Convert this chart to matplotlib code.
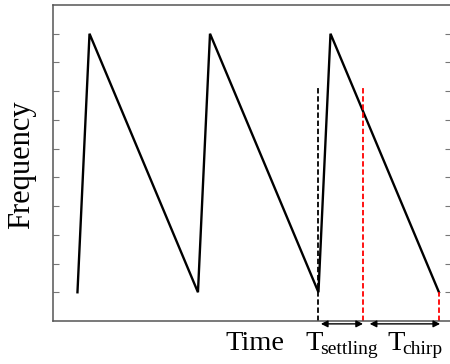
import matplotlib
matplotlib.use("Agg")
import matplotlib.pyplot as plt

plt.rcParams['font.family'] = ['Liberation Serif', 'DejaVu Serif']

# Sawtooth chirp sequence: (time, frequency) vertices
chirp_time = [0, 1, 10, 11, 20, 21, 30]
chirp_freq = [0, 9, 0, 9, 0, 9, 0]

# Timing markers
settle_start = 20
settle_end = 23.7
chirp_end = 30
marker_top = 7.1

y_ticks = list(range(0, 10))

fig = plt.figure(figsize=(4.5, 3.64), dpi=100)
W, H = 450, 364
ax = fig.add_axes([53 / W, 1 - 321 / H, (451 - 53) / W, (321 - 5) / H])

ax.plot(chirp_time, chirp_freq, color='black', lw=1.7, solid_joinstyle='miter')

dash = (0, (3, 1.5))
ax.plot([settle_start, settle_start], [-1, marker_top], color='black', lw=1.3, ls=dash)
ax.plot([settle_end, settle_end], [-1, marker_top], color='red', lw=1.3, ls=dash)
ax.plot([chirp_end, chirp_end], [-1, 0], color='red', lw=1.3, ls=dash)

ax.set_xlim(-2.03, 31.0)
ax.set_ylim(-1, 10)
ax.set_xticks([])
ax.set_yticks(y_ticks)
ax.set_yticklabels([])
ax.tick_params(axis='y', direction='in', length=4, width=0.8, color='#777777',
               left=True, right=True)
for s in ax.spines.values():
    s.set_color('#555555')
    s.set_linewidth(1.1)
ax.spines['right'].set_visible(False)

arrow_y = -1.1
ax.annotate('', xy=(settle_start + 0.2, arrow_y), xytext=(settle_end, arrow_y),
            xycoords='data', annotation_clip=False,
            arrowprops=dict(arrowstyle='<|-|>', color='black', lw=1.0,
                            shrinkA=0, shrinkB=0, mutation_scale=10))
ax.annotate('', xy=(settle_end + 0.55, arrow_y), xytext=(chirp_end + 0.1, arrow_y),
            xycoords='data', annotation_clip=False,
            arrowprops=dict(arrowstyle='<|-|>', color='black', lw=1.0,
                            shrinkA=0, shrinkB=0, mutation_scale=10))

fig.text(36 / W, 1 - 165 / H, 'Frequency', fontsize=22, rotation=90,
         ha='right', va='center')

base = 1 - 350 / H
sub = 1 - 354 / H
fig.text(225 / W, base, 'Time', fontsize=20.5, ha='left', va='baseline')
fig.text(305 / W, base, 'T', fontsize=20.5, ha='left', va='baseline')
fig.text(320 / W, sub, 'settling', fontsize=14, ha='left', va='baseline')
fig.text(387 / W, base, 'T', fontsize=20.5, ha='left', va='baseline')
fig.text(402 / W, sub, 'chirp', fontsize=14, ha='left', va='baseline')

fig.savefig('out.png', dpi=100)
